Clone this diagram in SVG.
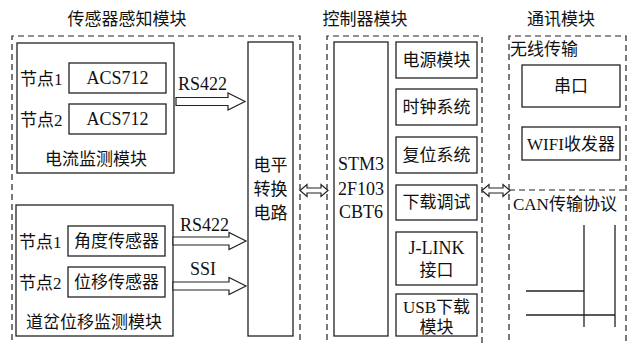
<svg xmlns="http://www.w3.org/2000/svg" width="633" height="344" viewBox="0 0 633 344">
<style>
text{font-family:"Liberation Serif","Noto Sans CJK SC",serif;font-size:17px;fill:#111}
.m{text-anchor:middle}
.e{font-size:18px}
.b{fill:#fff;stroke:#222;stroke-width:1.3}
.d{fill:none;stroke:#222;stroke-width:1.2;stroke-dasharray:6 4}
.a{fill:#fff;stroke:#222;stroke-width:1.2;stroke-linejoin:miter}
.l{stroke:#222;stroke-width:1.3;fill:none}
</style>
<rect width="633" height="344" fill="#fff"/>
<g id="titles">
<text x="127" y="25" class="m">传感器感知模块</text>
<text x="365" y="25" class="m">控制器模块</text>
<text x="561" y="25" class="m">通讯模块</text>
</g>
<g id="sensor-module">
<path class="d" d="M12,350 V36 H300 V350"/>
<g id="current-monitor">
<rect class="b" x="17" y="43" width="157" height="130"/>
<text x="20" y="85">节点1</text>
<text x="20" y="126">节点2</text>
<text x="96" y="165" class="m">电流监测模块</text>
</g>
<g id="acs1"><rect class="b" x="69" y="63" width="97" height="30"/><text x="117.5" y="84" class="m e">ACS712</text></g>
<g id="acs2"><rect class="b" x="69" y="104" width="97" height="30"/><text x="117.5" y="125" class="m e">ACS712</text></g>
<g id="turnout-monitor">
<rect class="b" x="16" y="205" width="157" height="131"/>
<text x="19" y="248">节点1</text>
<text x="19" y="289">节点2</text>
<text x="94" y="328" class="m">道岔位移监测模块</text>
</g>
<g id="angle"><rect class="b" x="68" y="226" width="97" height="30"/><text x="116.5" y="247" class="m">角度传感器</text></g>
<g id="position"><rect class="b" x="68" y="267" width="97" height="30"/><text x="116.5" y="288" class="m">位移传感器</text></g>
<g id="level-convert">
<rect class="b" x="248" y="42" width="45" height="294"/>
<text x="270.5" y="171" class="m">电平</text>
<text x="270.5" y="195" class="m">转换</text>
<text x="270.5" y="219" class="m">电路</text>
</g>
</g>
<g id="controller-module">
<path class="d" d="M327,350 V36 H482 V350"/>
<g id="stm"><rect class="b" x="334" y="42" width="54" height="294"/>
<text x="361" y="170" class="m e">STM3</text>
<text x="361" y="195" class="m e">2F103</text>
<text x="361" y="218" class="m e">CBT6</text></g>
<g id="power"><rect class="b" x="396" y="42" width="81" height="36"/><text x="436.5" y="66" class="m">电源模块</text></g>
<g id="clock"><rect class="b" x="396" y="89" width="81" height="36"/><text x="436.5" y="113" class="m">时钟系统</text></g>
<g id="reset"><rect class="b" x="396" y="137" width="81" height="36"/><text x="436.5" y="161" class="m">复位系统</text></g>
<g id="debug"><rect class="b" x="396" y="185" width="81" height="35"/><text x="436.5" y="208" class="m">下载调试</text></g>
<g id="jlink"><rect class="b" x="396" y="232" width="81" height="53"/><text x="436.5" y="254" class="m e">J-LINK</text><text x="436.5" y="276" class="m">接口</text></g>
<g id="usb"><rect class="b" x="396" y="294" width="81" height="42"/><text x="436.5" y="313" class="m">USB下载</text><text x="436.5" y="333" class="m">模块</text></g>
</g>
<g id="comm-module">
<path class="d" d="M509,350 V36 H626 V350 M509,190 H626"/>
<text x="510" y="55">无线传输</text>
<g id="serial"><rect class="b" x="522" y="65" width="98" height="42"/><text x="571" y="92" class="m">串口</text></g>
<g id="wifi"><rect class="b" x="522" y="127" width="98" height="33"/><text x="571" y="150" class="m">WIFI收发器</text></g>
<text x="513" y="210">CAN传输协议</text>
<g id="can-bus">
<path class="l" d="M584,225 V327 M615,225 V327 M526,291 H584 M526,315 H615"/>
</g>
</g>
<g id="connectors">
<path class="a" d="M176,97.5 H228 V93 L245,101.5 L228,110 V105.5 H176 Z"/>
<text x="178" y="90" class="e">RS422</text>
<path class="a" d="M173,237 H229 V232.5 L246,241 L229,249.5 V245 H173 Z"/>
<text x="180" y="231" class="e">RS422</text>
<path class="a" d="M173,282 H229 V277.5 L246,286 L229,294.5 V290 H173 Z"/>
<text x="190" y="275" class="e">SSI</text>
<path class="a" d="M300,190.5 L307,184.5 V188 H321 V184.5 L328,190.5 L321,196.5 V193 H307 V196.5 Z"/>
<path class="a" d="M482,190.5 L489,184.5 V188 H503 V184.5 L510,190.5 L503,196.5 V193 H489 V196.5 Z"/>
</g>
</svg>
